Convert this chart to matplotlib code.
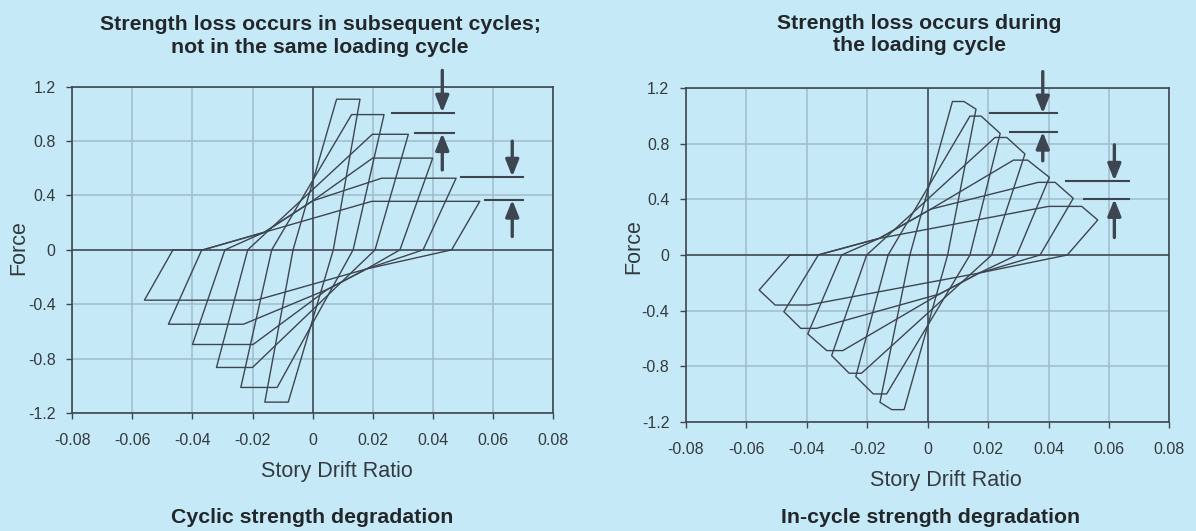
import matplotlib
matplotlib.use('Agg')
import matplotlib.pyplot as plt

plt.rcParams['font.family'] = ['Liberation Sans', 'DejaVu Sans']

# ---- data ----
x_ticks = [-0.08, -0.06, -0.04, -0.02, 0, 0.02, 0.04, 0.06, 0.08]
x_tick_labels = ['-0.08', '-0.06', '-0.04', '-0.02', '0', '0.02', '0.04', '0.06', '0.08']
y_ticks = [1.2, 0.8, 0.4, 0, -0.4, -0.8, -1.2]
y_tick_labels = ['1.2', '0.8', '0.4', '0', '-0.4', '-0.8', '-1.2']

# cyclic strength degradation (left), six loops inner -> outer
cyc_pos_force = [1.108, 0.995, 0.85, 0.675, 0.527, 0.357]
cyc_pos_start = [0.008, 0.013, 0.0199, 0.020, 0.023, 0.0197]
cyc_pos_end = [0.0158, 0.0238, 0.0319, 0.040, 0.0478, 0.0557]
cyc_pos_zero = [0.0069, 0.0135, 0.0208, 0.0291, 0.0368, 0.0463]
cyc_neg_force = [-1.12, -1.012, -0.865, -0.696, -0.547, -0.37]
cyc_neg_start = [-0.0081, -0.0118, -0.020, -0.0198, -0.023, -0.0187]
cyc_neg_end = [-0.0159, -0.0239, -0.032, -0.040, -0.048, -0.056]
cyc_neg_zero = [-0.0065, -0.0136, -0.0216, -0.0292, -0.0369, -0.0465]
cyc_pinch_pos = [(-0.016, 0.13), (0.0, 0.36)]
cyc_pinch_neg = [(0.018, -0.14), (0.005, -0.29)]

# in-cycle strength degradation (right)
inc_pos_force = [1.105, 1.0, 0.846, 0.683, 0.523, 0.350]
inc_pos_start = [0.0082, 0.014, 0.0223, 0.0284, 0.0366, 0.040]
inc_pos_end = [0.012, 0.0177, 0.0262, 0.0331, 0.0422, 0.051]
inc_pos_drop_x = [0.016, 0.024, 0.0322, 0.0403, 0.0482, 0.0563]
inc_pos_drop_f = [1.05, 0.875, 0.727, 0.559, 0.408, 0.252]
inc_pos_zero = [0.0066, 0.014, 0.0212, 0.0295, 0.0372, 0.0462]
inc_neg_force = [-1.113, -1.0, -0.851, -0.688, -0.528, -0.36]
inc_neg_start = [-0.0078, -0.0136, -0.0219, -0.0281, -0.0368, -0.0395]
inc_neg_end = [-0.0119, -0.018, -0.026, -0.0334, -0.042, -0.0505]
inc_neg_drop_x = [-0.0158, -0.0238, -0.0318, -0.0397, -0.0476, -0.0558]
inc_neg_drop_f = [-1.06, -0.875, -0.724, -0.568, -0.408, -0.252]
inc_neg_zero = [-0.0059, -0.0131, -0.0202, -0.0285, -0.0362, -0.0456]
inc_pinch_pos = [(-0.016, 0.12), (0.001, 0.33)]
inc_pinch_neg = [(0.017, -0.13), (0.004, -0.28)]

# strength-loss markers: arrow x, upper/lower reference force, line extents, arrow tails
cyc_arrow_x = [0.0432, 0.0665]
cyc_ref_hi = [1.01, 0.539]
cyc_ref_lo = [0.858, 0.368]
cyc_ref_hi_x0 = [0.0263, 0.0493]
cyc_ref_lo_x0 = [0.0341, 0.0574]
cyc_ref_x1 = [0.047, 0.0701]
cyc_tail_down = [1.32, 0.80]
cyc_tail_up = [0.588, 0.098]

inc_arrow_x = [0.0381, 0.0618]
inc_ref_hi = [1.019, 0.535]
inc_ref_lo = [0.887, 0.403]
inc_ref_hi_x0 = [0.0206, 0.0458]
inc_ref_lo_x0 = [0.0274, 0.0517]
inc_ref_x1 = [0.0427, 0.0665]
inc_tail_down = [1.32, 0.793]
inc_tail_up = [0.678, 0.126]

bg = '#c6e9f8'
dark = '#3d4650'
grid_c = '#9fbccb'
text_c = '#333a40'


def reload_path(z, xs, f, pinch, positive):
    pts = [(z, 0.0)]
    if positive:
        if z < -0.0365:
            pts.append((-0.0365, 0.0))
        if z < -0.025:
            pts.append(pinch[0])
            if f > pinch[1][1] + 0.15:
                pts.append(pinch[1])
    else:
        if z > 0.025:
            pts.append(pinch[0])
            if f < pinch[1][1] - 0.15:
                pts.append(pinch[1])
    pts.append((xs, f))
    return pts


def setup(ax, xlab_x, xlab_y, ylab_x, ylab_y):
    ax.set_facecolor(bg)
    ax.set_xlim(-0.08, 0.08)
    ax.set_ylim(-1.2, 1.2)
    ax.set_xticks(x_ticks)
    ax.set_xticklabels(x_tick_labels)
    ax.set_yticks(y_ticks)
    ax.set_yticklabels(y_tick_labels)
    ax.tick_params(direction='out', length=4, width=1, color=dark,
                   labelsize=11.5, labelcolor=text_c, pad=8)
    ax.tick_params(axis='x', pad=10.5)
    ax.grid(True, color=grid_c, lw=1.1)
    ax.axhline(0, color=dark, lw=1.1, zorder=2)
    ax.axvline(0, color=dark, lw=1.1, zorder=2)
    for s in ax.spines.values():
        s.set_color(dark)
        s.set_linewidth(1.2)
    ax.set_xlabel('Story Drift Ratio', fontsize=15.5, color=text_c)
    ax.xaxis.set_label_coords(xlab_x, xlab_y)
    ax.xaxis.label.set_va('center')
    ax.set_ylabel('Force', fontsize=15.5, color=text_c)
    ax.yaxis.set_label_coords(ylab_x, ylab_y)
    ax.yaxis.label.set_va('center')


def markers(ax, ax_x, hi, lo, hi_x0, lo_x0, x1, t_down, t_up):
    for i in range(len(ax_x)):
        ax.plot([hi_x0[i], x1[i]], [hi[i], hi[i]], color=dark, lw=1.5, zorder=4)
        ax.plot([lo_x0[i], x1[i]], [lo[i], lo[i]], color=dark, lw=1.5, zorder=4)
        for tail, tip in ((t_down[i], hi[i]), (t_up[i], lo[i])):
            ax.annotate('', xy=(ax_x[i], tip), xytext=(ax_x[i], tail),
                        arrowprops=dict(arrowstyle='-|>,head_length=0.55,head_width=0.22',
                                        mutation_scale=18, lw=2.4, color=dark,
                                        shrinkA=0, shrinkB=0),
                        zorder=5)


fig = plt.figure(figsize=(11.96, 5.31), dpi=100, facecolor=bg)
ax1 = fig.add_axes([0.0605, 0.2222, 0.4017, 0.6145])
ax2 = fig.add_axes([0.5736, 0.2058, 0.4041, 0.6279])

setup(ax1, 0.55, -0.18, -0.112, 0.506)
setup(ax2, 0.5375, -0.175, -0.109, 0.525)

# left: cyclic loops
for i in range(len(cyc_pos_force)):
    pts = reload_path(cyc_neg_zero[i], cyc_pos_start[i], cyc_pos_force[i], cyc_pinch_pos, True)
    pts += [(cyc_pos_end[i], cyc_pos_force[i])]
    pts += reload_path(cyc_pos_zero[i], cyc_neg_start[i], cyc_neg_force[i], cyc_pinch_neg, False)
    pts += [(cyc_neg_end[i], cyc_neg_force[i]), (cyc_neg_zero[i], 0.0)]
    ax1.plot([p[0] for p in pts], [p[1] for p in pts], color=dark, lw=1.0, zorder=3)

# right: in-cycle loops
for i in range(len(inc_pos_force)):
    pts = reload_path(inc_neg_zero[i], inc_pos_start[i], inc_pos_force[i], inc_pinch_pos, True)
    pts += [(inc_pos_end[i], inc_pos_force[i]), (inc_pos_drop_x[i], inc_pos_drop_f[i])]
    pts += reload_path(inc_pos_zero[i], inc_neg_start[i], inc_neg_force[i], inc_pinch_neg, False)
    pts += [(inc_neg_end[i], inc_neg_force[i]), (inc_neg_drop_x[i], inc_neg_drop_f[i]),
            (inc_neg_zero[i], 0.0)]
    ax2.plot([p[0] for p in pts], [p[1] for p in pts], color=dark, lw=1.0, zorder=3)

markers(ax1, cyc_arrow_x, cyc_ref_hi, cyc_ref_lo, cyc_ref_hi_x0, cyc_ref_lo_x0,
        cyc_ref_x1, cyc_tail_down, cyc_tail_up)
markers(ax2, inc_arrow_x, inc_ref_hi, inc_ref_lo, inc_ref_hi_x0, inc_ref_lo_x0,
        inc_ref_x1, inc_tail_down, inc_tail_up)

title_kw = dict(fontsize=15.3, fontweight='bold', color='#22272b', ha='center',
                va='center', linespacing=1.25)
fig.text(0.2676, 0.9325, 'Strength loss occurs in subsequent cycles;\nnot in the same loading cycle', **title_kw)
fig.text(0.769, 0.935, 'Strength loss occurs during\nthe loading cycle', **title_kw)
fig.text(0.2609, 0.0245, 'Cyclic strength degradation', **title_kw)
fig.text(0.7784, 0.0245, 'In-cycle strength degradation', **title_kw)

fig.savefig('out.png', dpi=100, facecolor=bg)
